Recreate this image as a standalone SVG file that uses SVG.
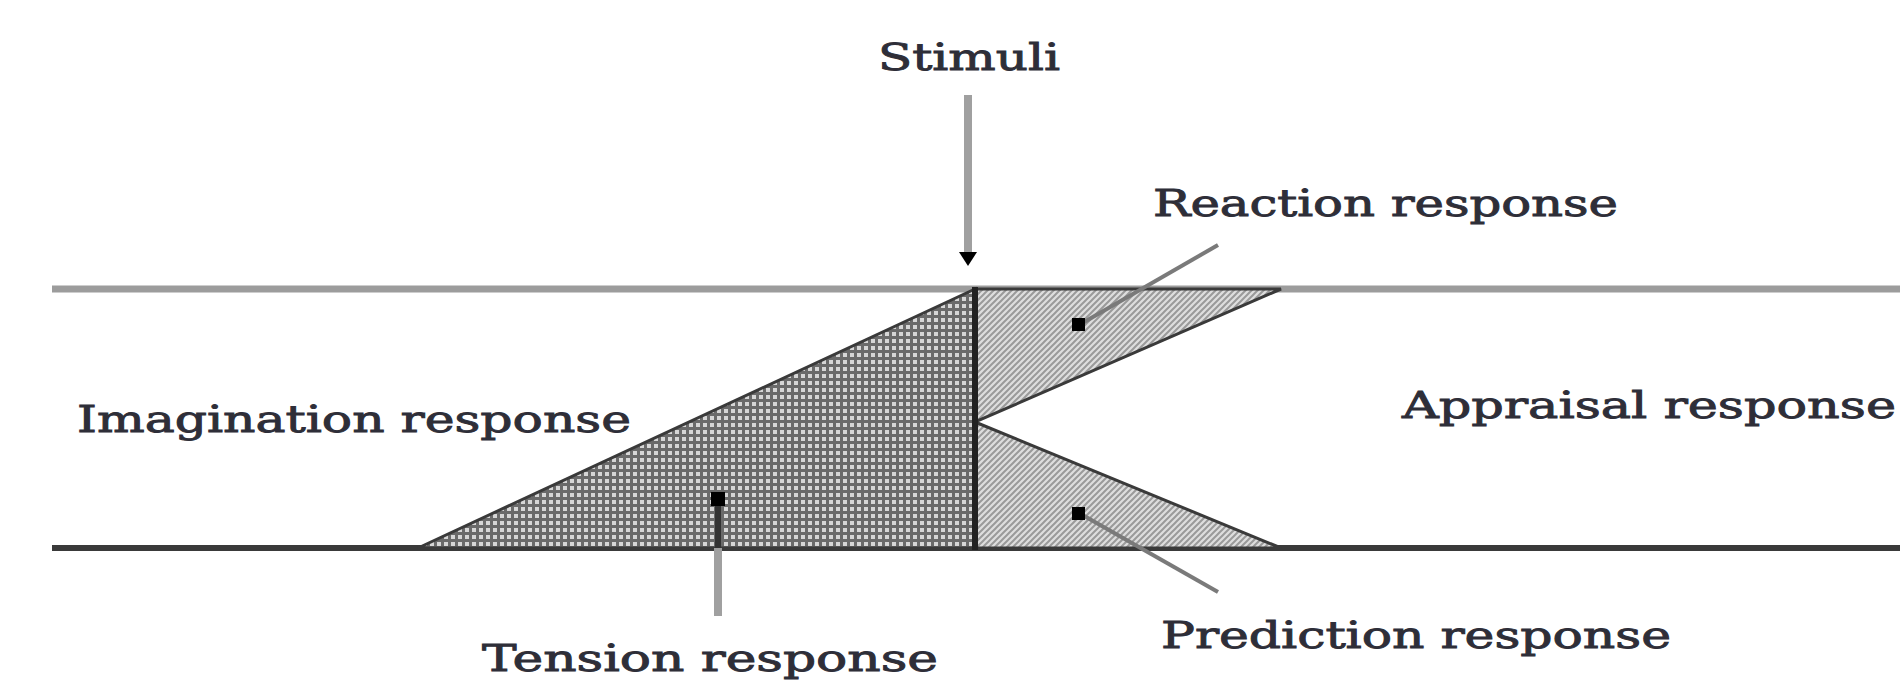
<svg xmlns="http://www.w3.org/2000/svg" width="1900" height="682" viewBox="0 0 1900 682">
<style>
.lbl{font-family:"DejaVu Serif","Liberation Serif",serif;font-size:38px;fill:#2e2e38;stroke:#2e2e38;stroke-width:0.9}
.edge{stroke:#3a3a3a;stroke-width:3;stroke-linejoin:miter}
.lead{stroke:#7a7a7a;stroke-width:4;fill:none}
</style>
<defs>
<pattern id="mesh" width="7" height="7" patternUnits="userSpaceOnUse">
<rect width="7" height="7" fill="#d6d6d6"/>
<rect x="0" y="0" width="7" height="3" fill="#6a6a6a"/>
<rect x="0" y="0" width="3" height="7" fill="#6a6a6a"/>
</pattern>
<pattern id="hatch" width="6" height="6" patternUnits="userSpaceOnUse">
<rect width="6" height="6" fill="#dedede"/>
<path d="M-1,7 L7,-1 M-4,4 L4,-4 M2,10 L10,2" stroke="#9a9a9a" stroke-width="2"/>
</pattern>
</defs>

<g id="lines">
<line x1="52" y1="289" x2="1900" y2="289" stroke="#9c9c9c" stroke-width="7"/>
<line x1="52" y1="548" x2="1900" y2="548" stroke="#3a3a3a" stroke-width="6"/>
</g>

<g id="tension">
<polygon points="418,548 975,289 975,548" fill="url(#mesh)" class="edge"/>
</g>
<g id="reaction">
<polygon points="975,289 1281,289 975,422" fill="url(#hatch)" class="edge"/>
</g>
<g id="prediction">
<polygon points="975,422 1281,548 975,548" fill="url(#hatch)" class="edge"/>
</g>
<g id="divider">
<line x1="975" y1="287" x2="975" y2="550" stroke="#222" stroke-width="6"/>
</g>

<g id="connectors">
<line x1="968" y1="95" x2="968" y2="254" stroke="#a0a0a0" stroke-width="8"/>
<polygon points="959,252 977,252 968,266" fill="#000"/>
<line x1="1218" y1="245" x2="1079" y2="325" class="lead"/>
<rect x="1072" y="318" width="13" height="13" fill="#000"/>
<line x1="1218" y1="592" x2="1079" y2="513" class="lead"/>
<rect x="1072" y="507" width="13" height="13" fill="#000"/>
<line x1="718" y1="500" x2="718" y2="548" stroke="#333" stroke-width="6"/>
<line x1="718" y1="548" x2="718" y2="616" stroke="#a0a0a0" stroke-width="8"/>
<rect x="711" y="492" width="14" height="14" fill="#000"/>
</g>

<g id="labels">
<text class="lbl" x="878" y="70" textLength="182" lengthAdjust="spacingAndGlyphs">Stimuli</text>
<text class="lbl" x="1153" y="216" textLength="465" lengthAdjust="spacingAndGlyphs">Reaction response</text>
<text class="lbl" x="77" y="432" textLength="554" lengthAdjust="spacingAndGlyphs">Imagination response</text>
<text class="lbl" x="1402" y="418" textLength="494" lengthAdjust="spacingAndGlyphs">Appraisal response</text>
<text class="lbl" x="1161" y="648" textLength="510" lengthAdjust="spacingAndGlyphs">Prediction response</text>
<text class="lbl" x="482" y="671" textLength="456" lengthAdjust="spacingAndGlyphs">Tension response</text>
</g>
</svg>
